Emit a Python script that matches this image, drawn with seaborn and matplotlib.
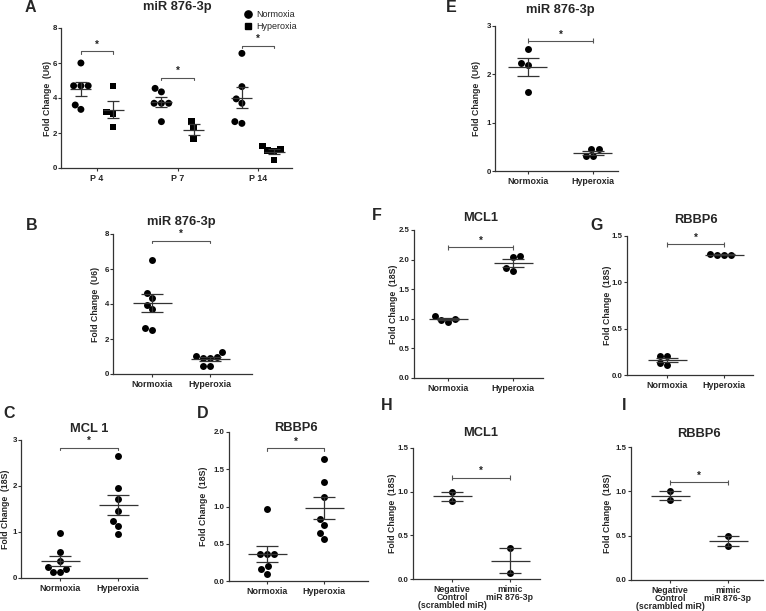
import numpy as np
import pandas as pd
import matplotlib
matplotlib.use("Agg")
import matplotlib.pyplot as plt
from matplotlib.lines import Line2D
import seaborn as sns

sns.set_theme(style="ticks")
plt.rcParams["font.family"] = ["Liberation Sans", "DejaVu Sans"]

# ---------------- data ----------------
a_days = ["P 4", "P 7", "P 14"]
a_conditions = ["Normoxia", "Hyperoxia"]
a_norm_p4 = [6.0, 4.7, 4.7, 4.7, 3.6, 3.35]
a_norm_p7 = [4.55, 4.35, 3.7, 3.7, 3.7, 2.65]
a_norm_p14 = [6.55, 4.65, 3.95, 3.7, 2.55, 2.65]
a_hyp_p4 = [4.7, 3.2, 3.1, 2.35]
a_hyp_p7 = [2.65, 2.3, 1.65]
a_hyp_p14 = [1.25, 1.05, 0.95, 1.0, 0.45]

b_norm = [6.5, 4.63, 4.32, 3.96, 3.69, 2.65, 2.51]
b_hyp = [1.24, 0.9, 0.96, 0.92, 1.01, 0.44, 0.46]
c_norm = [0.97, 0.57, 0.36, 0.2, 0.12, 0.12, 0.23]
c_hyp = [2.66, 1.96, 1.72, 1.45, 1.23, 1.12, 0.96]
d_norm = [0.97, 0.36, 0.36, 0.36, 0.2, 0.16, 0.1]
d_hyp = [1.64, 1.33, 1.13, 0.83, 0.75, 0.64, 0.56]
e_norm = [2.53, 2.23, 2.19, 1.63]
e_hyp = [0.45, 0.45, 0.31, 0.31]
f_norm = [1.0, 0.95, 0.98, 1.04]
f_hyp = [2.06, 2.05, 1.80, 1.85]
g_norm = [0.21, 0.20, 0.11, 0.13]
g_hyp = [1.30, 1.29, 1.30, 1.31]
h_neg = [1.0, 0.89]
h_mimic = [0.35, 0.07]
i_neg = [1.0, 0.9]
i_mimic = [0.5, 0.38]

oxy_labels = ["Normoxia", "Hyperoxia"]
mimic_labels = ["Negative\nControl\n(scrambled miR)", "mimic\nmiR 876-3p"]

# ---------------- figure ----------------
W, H = 766, 611
fig = plt.figure(figsize=(W / 100, H / 100), dpi=100)
LINE = "#333333"
BRK = "#555555"
DOT = 5.0
TITLE_FS = 9.3
LETTER_FS = 11.5


def make_ax(L, R, T, B):
    return fig.add_axes([L / W, 1 - B / H, (R - L) / W, (B - T) / H])


def ftext(x, y, s, **kw):
    fig.text(x / W, 1 - y / H, s, **kw)


def style_axis(ax, ymax, ystep, fmt, xlabels, xlim, xfs=6.4):
    ax.set_xlim(*xlim)
    ax.set_ylim(0, ymax)
    ticks = np.arange(0, ymax + 1e-9, ystep)
    ax.set_yticks(ticks)
    ax.set_yticklabels([fmt.format(t) for t in ticks], fontsize=5.7,
                       fontweight="bold", color="#222222")
    ax.set_xticks(range(len(xlabels)))
    ax.set_xticklabels(xlabels, fontsize=xfs, fontweight="bold",
                       linespacing=0.9)
    ax.set_xlabel("")
    ax.set_ylabel("")
    for s in ["top", "right"]:
        ax.spines[s].set_visible(False)
    for s in ["left", "bottom"]:
        ax.spines[s].set_linewidth(0.9)
        ax.spines[s].set_color(LINE)
    ax.tick_params(axis="both", length=2.2, width=0.8, color=LINE, pad=0.8)
    ax.tick_params(axis="x", pad=1.8)


def mean_sem(ax, x, vals, hw, cap_pt):
    v = np.asarray(vals, float)
    m = v.mean()
    s = v.std(ddof=1) / np.sqrt(len(v))
    ax.hlines(m, x - hw, x + hw, color=LINE, lw=0.9, zorder=4)
    ax.errorbar(x, m, yerr=s, fmt="none", ecolor=LINE, elinewidth=0.9,
                capsize=cap_pt, capthick=0.9, zorder=4)


def bracket(ax, x0, x1, y, d, style):
    if style == "down":
        ax.plot([x0, x0, x1, x1], [y - d, y, y, y - d], color=BRK, lw=0.8)
    else:
        ax.plot([x0, x1], [y, y], color=BRK, lw=0.8)
        ax.vlines([x0, x1], y - d, y + d, color=BRK, lw=0.8)
    ax.text((x0 + x1) / 2, y + d * 0.6, "*", ha="center", va="bottom",
            fontsize=7, fontweight="bold", color="#222222")


def two_group(L, R, T, B, c0, c1, g0, g1, labels, ymax, ystep, fmt,
              title, ylabel, ylabel_x, letter, letter_xy, br_y, br_style,
              title_y, xfs=6.4):
    ax = make_ax(L, R, T, B)
    unit = c1 - c0
    df = pd.DataFrame({"group": [labels[0]] * len(g0) + [labels[1]] * len(g1),
                       "value": list(g0) + list(g1)})
    sns.swarmplot(data=df, x="group", y="value", order=labels, color="black",
                  size=DOT, linewidth=0, ax=ax, zorder=3)
    xlim = ((L - c0) / unit, 1 + (R - c1) / unit)
    style_axis(ax, ymax, ystep, fmt, labels, xlim, xfs)
    mean_sem(ax, 0, g0, 19.5 / unit, 8)
    mean_sem(ax, 1, g1, 19.5 / unit, 8)
    d = ymax / (B - T) * 2.5
    bracket(ax, 0, 1, br_y, d, br_style)
    ftext((c0 + c1) / 2, title_y, title, ha="center", va="center",
          fontsize=TITLE_FS, fontweight="bold")
    ftext(ylabel_x, (T + B) / 2, ylabel, ha="center", va="center",
          rotation=90, fontsize=6.3, fontweight="bold")
    ftext(letter_xy[0], letter_xy[1], letter, ha="left", va="center",
          fontsize=LETTER_FS, fontweight="bold")
    return ax


# ---------------- panel A ----------------
L, R, T, B = 61, 292, 28, 168
cpx = [97, 177, 258]
unit = (cpx[2] - cpx[0]) / 2
axA = make_ax(L, R, T, B)
rows = []
for day, nv, hv in zip(a_days, [a_norm_p4, a_norm_p7, a_norm_p14],
                       [a_hyp_p4, a_hyp_p7, a_hyp_p14]):
    rows += [(day, "Normoxia", v) for v in nv]
    rows += [(day, "Hyperoxia", v) for v in hv]
dfa = pd.DataFrame(rows, columns=["day", "cond", "value"])
pal = {"Normoxia": "black", "Hyperoxia": "black"}
sns.swarmplot(data=dfa[dfa.cond == "Normoxia"], x="day", y="value", hue="cond",
              order=a_days, hue_order=a_conditions, palette=pal, dodge=True,
              size=DOT, linewidth=0, marker="o", legend=False,
              ax=axA, zorder=3)
sns.swarmplot(data=dfa[dfa.cond == "Hyperoxia"], x="day", y="value", hue="cond",
              order=a_days, hue_order=a_conditions, palette=pal, dodge=True,
              size=DOT - 0.4, linewidth=0, marker="s", legend=False,
              ax=axA, zorder=3)
style_axis(axA, 8, 2, "{:.0f}", a_days,
           ((L - cpx[0]) / unit, 2 + (R - cpx[2]) / unit))
off = 0.2
for i, day in enumerate(a_days):
    for j, cond in enumerate(a_conditions):
        vals = dfa[(dfa.day == day) & (dfa.cond == cond)].value.values
        mean_sem(axA, i + (j - 0.5) * 2 * off, vals, 10.5 / unit, 4.2)
dA = 8 / (B - T) * 2.5
for i, y in enumerate([6.66, 5.17, 6.99]):
    bracket(axA, i - off, i + off, y, dA, "down")
ftext(177, 7, "miR 876-3p", ha="center", va="center", fontsize=TITLE_FS,
      fontweight="bold")
ftext(47, 98, "Fold Change  (U6)", ha="center", va="center", rotation=90,
      fontsize=6.3, fontweight="bold")
ftext(25, 8, "A", ha="left", va="center", fontsize=LETTER_FS, fontweight="bold")
handles = [Line2D([], [], marker="o", ls="", color="black", ms=5.2),
           Line2D([], [], marker="s", ls="", color="black", ms=4.8)]
fig.legend(handles, a_conditions, loc="upper left",
           bbox_to_anchor=(244 / W, 1 - 10 / H), frameon=False,
           handlelength=0.8, handletextpad=0.6, labelspacing=0.35,
           fontsize=6.5, borderaxespad=0, borderpad=0)

# ---------------- other panels ----------------
two_group(113, 252, 234, 374, 152, 210, b_norm, b_hyp, oxy_labels, 8, 2,
          "{:.0f}", "miR 876-3p", "Fold Change  (U6)", 95, "B", (26, 225),
          7.62, "down", 222)
two_group(21, 147, 440, 578, 60, 118, c_norm, c_hyp, oxy_labels, 3, 1,
          "{:.0f}", "MCL 1", "Fold Change  (18S)", 6, "C", (3, 413),
          2.83, "down", 429)
two_group(229, 368, 432, 581, 267, 324, d_norm, d_hyp, oxy_labels, 2, 0.5,
          "{:.1f}", "RBBP6", "Fold Change  (18S)", 204, "D", (197, 413),
          1.78, "down", 428)
two_group(495, 618, 26, 171, 528, 593, e_norm, e_hyp, oxy_labels, 3, 1,
          "{:.0f}", "miR 876-3p", "Fold Change  (U6)", 477, "E", (446, 8),
          2.69, "cap", 10)
two_group(414, 543, 230, 378, 448, 513, f_norm, f_hyp, oxy_labels, 2.5, 0.5,
          "{:.1f}", "MCL1", "Fold Change  (18S)", 394, "F", (372, 216),
          2.21, "cap", 218)
two_group(627, 753, 236, 375, 667, 724, g_norm, g_hyp, oxy_labels, 1.5, 0.5,
          "{:.1f}", "RBBP6", "Fold Change  (18S)", 607, "G", (590, 225),
          1.41, "cap", 220)
two_group(413, 540, 448, 579, 452, 510, h_neg, h_mimic, mimic_labels, 1.5, 0.5,
          "{:.1f}", "MCL1", "Fold Change  (18S)", 393, "H", (381, 406),
          1.16, "cap", 433, xfs=6.3)
two_group(631, 763, 447, 580, 670, 728, i_neg, i_mimic, mimic_labels, 1.5, 0.5,
          "{:.1f}", "RBBP6", "Fold Change  (18S)", 608, "I", (622, 406),
          1.10, "cap", 434, xfs=6.3)

fig.savefig("out.png", dpi=100)
